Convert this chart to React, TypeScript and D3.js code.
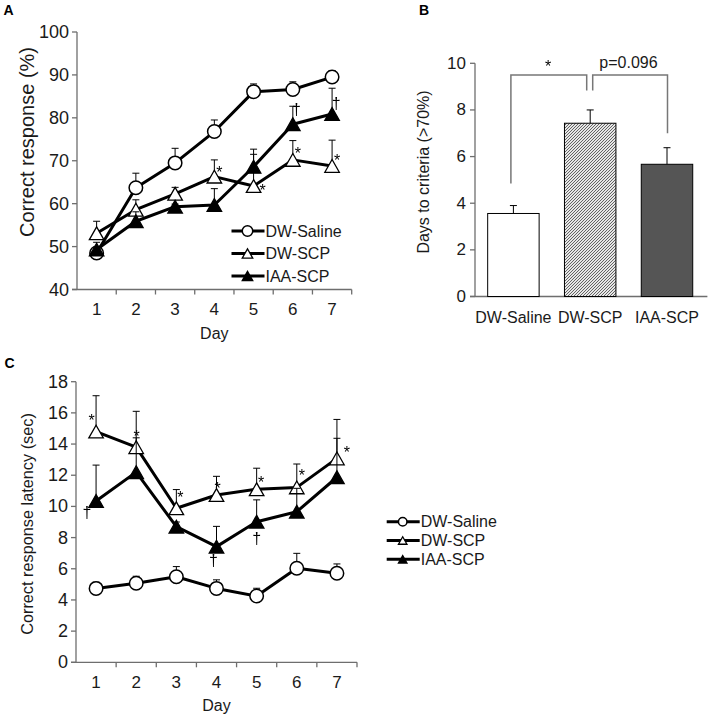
import React from "react";
import * as d3 from "d3";

// ---------- data ----------
const days = [1, 2, 3, 4, 5, 6, 7];
const seriesNames = ["DW-Saline", "DW-SCP", "IAA-SCP"];

// Panel A: correct response (%)
const accTicks = [40, 50, 60, 70, 80, 90, 100];
const accSaline = [48.5, 63.7, 69.5, 76.8, 86.1, 86.6, 89.5];
const accSalineErr = [0.6, 3.4, 3.4, 2.7, 1.8, 1.8, 1.5];
const accDwScp = [53.1, 58.6, 62.3, 66.3, 64.1, 70.2, 68.8];
const accDwScpErr = [2.8, 2.3, 1.5, 3.9, 7.4, 4.5, 6.0];
const accIaaScp = [49.3, 55.9, 59.3, 59.7, 68.6, 78.5, 80.9];
const accIaaScpErr = [1.7, 2.2, 0.6, 3.8, 4.1, 4.2, 6.0];

// Panel B: days to criteria (>70%)
const criteriaGroups = ["DW-Saline", "DW-SCP", "IAA-SCP"];
const criteriaTicks = [0, 2, 4, 6, 8, 10];
const criteriaMeans = [3.56, 7.43, 5.67];
const criteriaErr = [0.34, 0.57, 0.71];
const criteriaSigLabels = ["*", "p=0.096"];

// Panel C: correct response latency (sec)
const latTicks = [0, 2, 4, 6, 8, 10, 12, 14, 16, 18];
const latSaline = [4.74, 5.07, 5.49, 4.74, 4.25, 6.03, 5.71];
const latSalineErr = [0.4, 0.45, 0.65, 0.55, 0.5, 0.96, 0.6];
const latDwScp = [14.8, 13.8, 9.88, 10.73, 11.1, 11.22, 13.08];
const latDwScpErr = [2.3, 2.3, 1.2, 1.2, 1.35, 1.5, 2.5];
const latIaaScp = [10.35, 12.2, 8.7, 7.42, 9.02, 9.66, 11.87];
const latIaaScpErr = [2.3, 2.2, 0.3, 1.3, 1.4, 1.5, 2.5];

// significance marks: series index, day, glyph
const accMarks = [
  { s: 1, day: 4, t: "*" },
  { s: 1, day: 5, t: "*" },
  { s: 1, day: 6, t: "*" },
  { s: 1, day: 7, t: "*" },
  { s: 2, day: 6, t: "†" },
  { s: 2, day: 7, t: "†" },
];
const latMarks = [
  { s: 1, day: 1, t: "*" },
  { s: 1, day: 2, t: "*" },
  { s: 1, day: 3, t: "*" },
  { s: 1, day: 4, t: "*" },
  { s: 1, day: 5, t: "*" },
  { s: 1, day: 6, t: "*" },
  { s: 1, day: 7, t: "*" },
  { s: 2, day: 1, t: "†" },
  { s: 2, day: 4, t: "†" },
  { s: 2, day: 5, t: "†" },
];

// placement offsets (pixels) for the marks above, same order
const accMarkOffsets = [
  [5, -8], [9, 1], [5, -10], [5, -9], [3.5, -15], [4, -10],
];
const latMarkOffsets = [
  [-4.5, -15], [0.5, -15], [4, -15], [1, -10], [4.5, -11], [5, -16], [10, -10],
  [-9, 12], [-3, 14], [0, 17],
];

// ---------- styling ----------
const FONT = "'Liberation Sans', Arial, Helvetica, sans-serif";
const AXIS = "#6e6e6e";
const TEXT = "#1a1a1a";
const kinds = ["circle", "triOpen", "triFilled"];

function tri(w: number, h: number) {
  return `M0,${-h / 2}L${w / 2},${h / 2}L${-w / 2},${h / 2}Z`;
}

function Marker({ kind, x, y, size }: { kind: string; x: number; y: number; size: number }) {
  if (kind === "circle")
    return <circle cx={x} cy={y} r={size / 2} fill="#fff" stroke="#000" strokeWidth={1.5} />;
  return (
    <path
      d={tri(size, size * 0.88)}
      transform={`translate(${x},${y})`}
      fill={kind === "triFilled" ? "#000" : "#fff"}
      stroke="#000"
      strokeWidth={1.3}
      strokeLinejoin="miter"
    />
  );
}

function Mark({ x, y, t }: { x: number; y: number; t: string }) {
  // x,y = visual glyph centre
  const fs = 16;
  const yy = t === "*" ? y + fs * 0.24 : y;
  return (
    <g filter="url(#gray-aa)">
      <text x={x} y={yy} fontSize={fs} fontFamily={FONT} fill="#000" textAnchor="middle" dominantBaseline="central">
        {t}
      </text>
    </g>
  );
}

type LineProps = {
  x0: number; x1: number; y0: number; y1: number;
  domain: [number, number];
  ticks: number[];
  values: number[][];
  errors: number[][];
  marks: { s: number; day: number; t: string }[];
  offsets: number[][];
  yTitle: string;
  titleX: number;
  titleY: number;
  titleSize: number;
  legendX: number;
  legendY: number;
  legendGap: number;
  legendMarker: number;
};

function LinePanel(p: LineProps) {
  const x = d3.scalePoint<number>().domain(days).range([p.x0, p.x1]).padding(0.5);
  const band = d3.scaleBand<number>().domain(days).range([p.x0, p.x1]);
  const y = d3.scaleLinear().domain(p.domain).range([p.y1, p.y0]);
  const line = d3
    .line<number>()
    .x((_, i) => x(days[i])!)
    .y((v) => y(v));
  const boundaries = days.map((d) => band(d)! + band.bandwidth());
  const capW = 7;
  return (
    <g>
      {/* axes */}
      <line x1={p.x0} x2={p.x0} y1={p.y0} y2={p.y1} stroke={AXIS} strokeWidth={1.3} />
      <line x1={p.x0 - 5} x2={p.x1} y1={p.y1} y2={p.y1} stroke={AXIS} strokeWidth={1.3} />
      {p.ticks.map((t) => (
        <g key={"yt" + t}>
          <line x1={p.x0 - 5} x2={p.x0} y1={y(t)} y2={y(t)} stroke={AXIS} strokeWidth={1.3} />
          <text x={p.x0 - 8} y={y(t)} fontSize={18} fontFamily={FONT} fill={TEXT} textAnchor="end" dominantBaseline="central">
            {t}
          </text>
        </g>
      ))}
      {boundaries.map((b, i) => (
        <line key={"xb" + i} x1={b} x2={b} y1={p.y1} y2={p.y1 + 5} stroke={AXIS} strokeWidth={1.3} />
      ))}
      {days.map((d) => (
        <text key={"xl" + d} x={x(d)} y={p.y1 + 20} fontSize={17} fontFamily={FONT} fill={TEXT} textAnchor="middle" dominantBaseline="central">
          {d}
        </text>
      ))}
      <text x={(p.x0 + p.x1) / 2} y={p.y1 + 43.5} fontSize={16} fontFamily={FONT} fill={TEXT} textAnchor="middle" dominantBaseline="central">
        Day
      </text>
      <text
        transform={`translate(${p.titleX},${p.titleY}) rotate(-90)`}
        fontSize={p.titleSize}
        fontFamily={FONT}
        fill={TEXT}
        textAnchor="middle"
        dominantBaseline="central"
      >
        {p.yTitle}
      </text>
      {/* series */}
      {p.values.map((vals, s) => (
        <g key={"s" + s}>
          <path d={line(vals)!} fill="none" stroke="#000" strokeWidth={3} strokeLinejoin="round" />
          {vals.map((v, i) => {
            const cx = x(days[i])!;
            const top = y(v + p.errors[s][i]);
            return (
              <g key={"e" + i}>
                <line x1={cx} x2={cx} y1={y(v)} y2={top} stroke="#000" strokeWidth={1} />
                <line x1={cx - capW / 2} x2={cx + capW / 2} y1={top} y2={top} stroke="#000" strokeWidth={1} />
              </g>
            );
          })}
          {vals.map((v, i) => (
            <Marker key={"m" + i} kind={kinds[s]} x={x(days[i])!} y={y(v)} size={s === 0 ? 13.5 : 14.5} />
          ))}
        </g>
      ))}
      {p.marks.map((m, i) => (
        <Mark
          key={"mk" + i}
          x={x(m.day)! + p.offsets[i][0]}
          y={y(p.values[m.s][m.day - 1]) + p.offsets[i][1]}
          t={m.t}
        />
      ))}
      {/* legend */}
      {seriesNames.map((n, i) => {
        const ly = p.legendY + i * p.legendGap;
        return (
          <g key={"lg" + i}>
            <line x1={p.legendX} x2={p.legendX + 33} y1={ly} y2={ly} stroke="#000" strokeWidth={3} />
            <Marker kind={kinds[i]} x={p.legendX + 16} y={ly} size={p.legendMarker} />
            <text x={p.legendX + 34} y={ly} fontSize={16} fontFamily={FONT} fill={TEXT} dominantBaseline="central">
              {n}
            </text>
          </g>
        );
      })}
    </g>
  );
}

function BarPanel() {
  const x0 = 475, x1 = 705.4, y0 = 63.3, y1 = 296.5;
  const x = d3.scaleBand<string>().domain(criteriaGroups).range([x0, x1]).paddingInner(0.33).paddingOuter(0.165);
  const y = d3.scaleLinear().domain([0, 10]).range([y1, y0]);
  const fills = ["#fff", "url(#hatch)", "#555"];
  const cx = (g: string) => x(g)! + x.bandwidth() / 2;
  const capW = 7;
  const br = "#777";
  return (
    <g>
      <defs>
        <pattern id="hatch" patternUnits="userSpaceOnUse" width={3} height={3}>
          <rect width={3} height={3} fill="#e6e6e6" />
          <path d="M-1,1 L1,-1 M0,3 L3,0 M2,4 L4,2" stroke="#555" strokeWidth={0.9} />
        </pattern>
      </defs>
      <line x1={x0} x2={x0} y1={y0} y2={y1} stroke={AXIS} strokeWidth={1.3} />
      <line x1={x0 - 5} x2={x1 + 2} y1={y1} y2={y1} stroke={AXIS} strokeWidth={1.3} />
      {criteriaTicks.map((t) => (
        <g key={"t" + t}>
          <line x1={x0 - 5} x2={x0} y1={y(t)} y2={y(t)} stroke={AXIS} strokeWidth={1.3} />
          <text x={x0 - 9} y={y(t)} fontSize={17} fontFamily={FONT} fill={TEXT} textAnchor="end" dominantBaseline="central">
            {t}
          </text>
        </g>
      ))}
      {criteriaGroups.map((g) => (
        <text key={"gl" + g} x={cx(g)} y={y1 + 20.5} fontSize={16} fontFamily={FONT} fill={TEXT} textAnchor="middle" dominantBaseline="central">
          {g}
        </text>
      ))}
      <text
        transform={`translate(423.5,172) rotate(-90)`}
        fontSize={16}
        fontFamily={FONT}
        fill={TEXT}
        textAnchor="middle"
        dominantBaseline="central"
      >
        Days to criteria (&gt;70%)
      </text>
      {criteriaGroups.map((g, i) => {
        const top = y(criteriaMeans[i] + criteriaErr[i]);
        return (
          <g key={"b" + g}>
            <line x1={cx(g)} x2={cx(g)} y1={y(criteriaMeans[i])} y2={top} stroke="#000" strokeWidth={1} />
            <line x1={cx(g) - capW / 2} x2={cx(g) + capW / 2} y1={top} y2={top} stroke="#000" strokeWidth={1} />
            <rect
              x={x(g)}
              y={y(criteriaMeans[i])}
              width={x.bandwidth()}
              height={y1 - y(criteriaMeans[i])}
              fill={fills[i]}
              stroke="#000"
              strokeWidth={1}
            />
          </g>
        );
      })}
      {/* significance brackets */}
      <path
        d={`M${cx(criteriaGroups[0]) - 2.5},${y(criteriaMeans[0] + criteriaErr[0]) - 22} V${y(10) + 11.7} H${cx(criteriaGroups[1]) - 3.5} V${y(criteriaMeans[1] + criteriaErr[1]) - 19.5}`}
        fill="none"
        stroke={br}
        strokeWidth={1.5}
      />
      <path
        d={`M${cx(criteriaGroups[1]) + 2.5},${y(criteriaMeans[1] + criteriaErr[1]) - 19.5} V${y(10) + 11.7} H${cx(criteriaGroups[2]) + 0.5} V${y(criteriaMeans[2] + criteriaErr[2]) - 14.5}`}
        fill="none"
        stroke={br}
        strokeWidth={1.5}
      />
      <Mark x={548} y={y(10) - 1} t={criteriaSigLabels[0]} />
      <text x={628.5} y={y(10) - 1} fontSize={16} fontFamily={FONT} fill={TEXT} textAnchor="middle" dominantBaseline="central">
        {criteriaSigLabels[1]}
      </text>
    </g>
  );
}

export default function App() {
  return (
    <svg width={708} height={714} style={{ position: "absolute", left: 0, top: 0, background: "#fff" }}>
      <defs>
        <filter id="gray-aa" x="-50%" y="-50%" width="200%" height="200%">
          <feOffset dx={0} dy={0} />
        </filter>
      </defs>
      <rect width={708} height={714} fill="#fff" />
      <text x={3.5} y={15} fontSize={14} fontWeight="bold" fontFamily={FONT} fill="#000">A</text>
      <text x={419} y={15} fontSize={14} fontWeight="bold" fontFamily={FONT} fill="#000">B</text>
      <text x={4.5} y={368} fontSize={14} fontWeight="bold" fontFamily={FONT} fill="#000">C</text>
      <LinePanel
        x0={77}
        x1={351.7}
        y0={32}
        y1={289.5}
        domain={[40, 100]}
        ticks={accTicks}
        values={[accSaline, accDwScp, accIaaScp]}
        errors={[accSalineErr, accDwScpErr, accIaaScpErr]}
        marks={accMarks}
        offsets={accMarkOffsets}
        yTitle="Correct response (%)"
        titleX={26.7}
        titleY={142}
        titleSize={20}
        legendX={231.5}
        legendY={231}
        legendGap={22.5}
        legendMarker={10.5}
      />
      <BarPanel />
      <LinePanel
        x0={76}
        x1={357}
        y0={381.7}
        y1={662.3}
        domain={[0, 18]}
        ticks={latTicks}
        values={[latSaline, latDwScp, latIaaScp]}
        errors={[latSalineErr, latDwScpErr, latIaaScpErr]}
        marks={latMarks}
        offsets={latMarkOffsets}
        yTitle="Correct response latency (sec)"
        titleX={26.7}
        titleY={524}
        titleSize={16.3}
        legendX={386.7}
        legendY={521.7}
        legendGap={18.8}
        legendMarker={8.5}
      />
    </svg>
  );
}
